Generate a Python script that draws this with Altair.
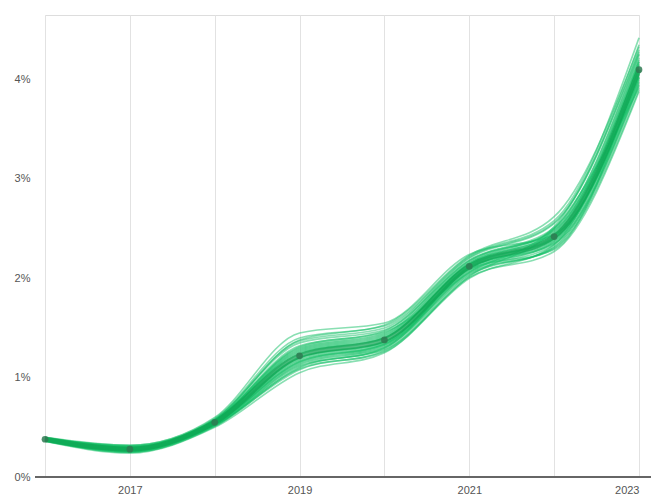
import altair as alt
import pandas as pd

years = [2016, 2017, 2018, 2019, 2020, 2021, 2022, 2023]
central = [0.38, 0.28, 0.55, 1.22, 1.38, 2.12, 2.42, 4.10]

runs = [
    [0.37, 0.26, 0.52, 1.10, 1.30, 2.05, 2.30, 3.90],
    [0.39, 0.30, 0.58, 1.35, 1.48, 2.20, 2.55, 4.30],
    [0.38, 0.27, 0.54, 1.18, 1.34, 2.10, 2.40, 4.05],
    [0.40, 0.31, 0.57, 1.30, 1.45, 2.18, 2.48, 4.22],
    [0.36, 0.24, 0.50, 1.05, 1.25, 2.00, 2.34, 4.18],
    [0.38, 0.29, 0.56, 1.25, 1.40, 2.15, 2.45, 4.15],
    [0.37, 0.27, 0.53, 1.15, 1.32, 2.08, 2.36, 4.00],
    [0.39, 0.32, 0.60, 1.45, 1.55, 2.24, 2.44, 4.02],
    [0.38, 0.28, 0.55, 1.20, 1.36, 2.12, 2.43, 4.12],
    [0.37, 0.25, 0.51, 1.12, 1.28, 2.03, 2.32, 3.95],
    [0.39, 0.29, 0.56, 1.28, 1.43, 2.16, 2.50, 4.25],
    [0.38, 0.27, 0.54, 1.16, 1.33, 2.09, 2.38, 4.03],
    [0.40, 0.30, 0.57, 1.32, 1.46, 2.06, 2.52, 4.28],
    [0.36, 0.26, 0.52, 1.08, 1.27, 2.02, 2.50, 3.92],
    [0.38, 0.28, 0.55, 1.23, 1.39, 2.13, 2.44, 4.10],
    [0.39, 0.31, 0.58, 1.37, 1.50, 2.21, 2.56, 4.35],
    [0.37, 0.26, 0.53, 1.14, 1.31, 2.06, 2.34, 3.98],
    [0.38, 0.29, 0.56, 1.26, 1.41, 2.14, 2.46, 4.18],
    [0.38, 0.27, 0.54, 1.19, 1.35, 2.11, 2.41, 4.08],
    [0.39, 0.30, 0.57, 1.29, 1.44, 2.17, 2.49, 4.20],
    [0.37, 0.25, 0.52, 1.11, 1.29, 2.04, 2.31, 3.94],
    [0.40, 0.32, 0.59, 1.40, 1.52, 2.22, 2.58, 4.42],
    [0.38, 0.28, 0.55, 1.21, 1.37, 2.12, 2.42, 4.11],
    [0.37, 0.27, 0.53, 1.17, 1.33, 2.07, 2.37, 4.02],
    [0.39, 0.29, 0.56, 1.27, 1.42, 2.15, 2.47, 4.16],
    [0.36, 0.25, 0.51, 1.09, 1.26, 2.01, 2.27, 3.88],
    [0.38, 0.30, 0.57, 1.31, 1.47, 2.18, 2.51, 4.26],
    [0.38, 0.27, 0.54, 1.20, 1.36, 2.10, 2.39, 4.06],
    [0.37, 0.26, 0.52, 1.13, 1.30, 2.09, 2.29, 4.14],
    [0.39, 0.31, 0.58, 1.38, 1.53, 2.23, 2.62, 4.33],
    [0.38, 0.28, 0.55, 1.24, 1.40, 2.14, 2.40, 4.07],
    [0.37, 0.27, 0.53, 1.16, 1.34, 2.11, 2.35, 3.97],
]

x_labels = [2017, 2019, 2021, 2023]
y_ticks = [0, 1, 2, 3, 4]

rows = []
for i, r in enumerate(runs):
    for yr, v in zip(years, r):
        rows.append({"run": i, "year": yr, "value": v})
runs_df = pd.DataFrame(rows)
central_df = pd.DataFrame({"year": years, "value": central})

label_expr = "indexof([" + ",".join(str(v) for v in x_labels) + "], datum.value) >= 0 ? datum.value : ''"

x_enc = alt.X(
    "year:Q",
    scale=alt.Scale(domain=[2016, 2023], nice=False, zero=False),
    axis=alt.Axis(
        values=years, labelExpr=label_expr, title=None, grid=True,
        gridColor="#e2e2e2", gridWidth=1, domain=False, ticks=False,
        labelPadding=7, labelFontSize=11, labelColor="#555",
        labelFont="Liberation Sans",
    ),
)
y_scale = alt.Scale(domain=[0, 4.65], nice=False)
y_enc = alt.Y(
    "value:Q",
    scale=y_scale,
    axis=alt.Axis(
        values=y_ticks, labelExpr="datum.value + '%'", title=None, grid=False,
        domain=False, ticks=False, labelPadding=15, labelFontSize=11,
        labelColor="#555", labelFont="Liberation Sans",
    ),
)

spaghetti = alt.Chart(runs_df).mark_line(
    interpolate="monotone", strokeWidth=1.6, opacity=0.5, color="#14c066"
).encode(x=x_enc, y=y_enc, detail="run:N")

center_line = alt.Chart(central_df).mark_line(
    interpolate="monotone", strokeWidth=5, opacity=0.6, color="#0e9f4e"
).encode(x="year:Q", y="value:Q")

dots = alt.Chart(central_df).mark_point(
    filled=True, size=45, color="#2f7a52", opacity=0.85
).encode(x="year:Q", y="value:Q")

axis_line = alt.Chart(central_df).mark_rule(color="#666", strokeWidth=1).encode(
    x=alt.value(-10), x2=alt.value(606), y=alt.value(462)
)

chart = (
    alt.layer(spaghetti, center_line, dots, axis_line)
    .properties(
        width=594, height=462,
        autosize=alt.AutoSizeParams(type="none"),
        padding={"left": 45, "top": 15, "right": 15, "bottom": 21},
    )
    .configure_view(stroke=None)
    .configure(background="white")
)

chart.save("out.html", embed_options={"renderer": "svg", "actions": False})
